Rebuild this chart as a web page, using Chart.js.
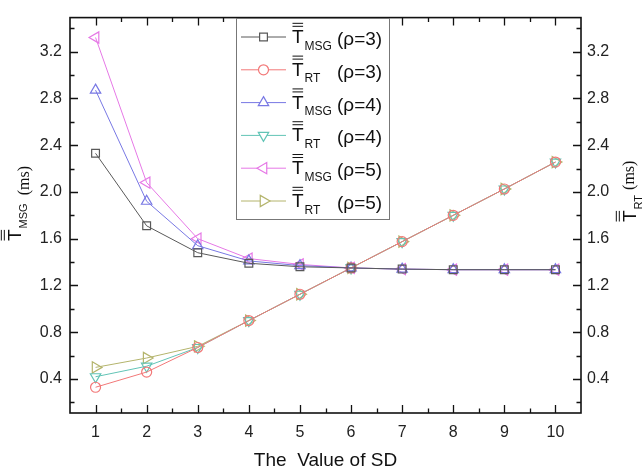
<!DOCTYPE html>
<html>
<head>
<meta charset="utf-8">
<script src="https://cdn.jsdelivr.net/npm/chart.js@4/dist/chart.umd.min.js"></script>
<style>
  html, body { margin: 0; padding: 0; background: #fff; }
  #grafico { display: block; }
</style>
</head>
<body>
<canvas id="grafico" width="644" height="474"></canvas>
<script>
// valores de SD en el eje x
const sdValues = [1, 2, 3, 4, 5, 6, 7, 8, 9, 10];

// tiempo medio de mensaje (ms)
const msgRho3 = [2.33, 1.71, 1.48, 1.39, 1.36, 1.35, 1.34, 1.335, 1.335, 1.335];
const msgRho4 = [2.87, 1.92, 1.54, 1.41, 1.37, 1.35, 1.34, 1.335, 1.335, 1.335];
const msgRho5 = [3.32, 2.08, 1.60, 1.43, 1.38, 1.35, 1.34, 1.335, 1.335, 1.335];

// tiempo medio de respuesta (ms)
const rtRho3 = [0.33, 0.46, 0.67, 0.90, 1.125, 1.35, 1.575, 1.80, 2.025, 2.255];
const rtRho4 = [0.42, 0.51, 0.67, 0.90, 1.125, 1.35, 1.575, 1.80, 2.025, 2.255];
const rtRho5 = [0.50, 0.58, 0.68, 0.90, 1.125, 1.35, 1.575, 1.80, 2.025, 2.255];

// marcas del eje y (ambos lados)
const yTickValues = [0.4, 0.8, 1.2, 1.6, 2.0, 2.4, 2.8, 3.2];

const FONT = '"Liberation Sans", Arial, sans-serif';

function serie(valores, sub, rho, color, estilo, rotacion, radio, eje) {
  return {
    label: sub + ' ' + rho,
    sub: sub,
    rho: rho,
    data: sdValues.map((x, i) => ({ x: x, y: valores[i] })),
    yAxisID: eje,
    borderColor: color,
    borderWidth: 1,
    pointStyle: estilo,
    pointRotation: rotacion,
    pointRadius: radio,
    pointBorderColor: color,
    pointBackgroundColor: 'rgba(255,255,255,0)',
    pointBorderWidth: 1.2,
    tension: 0
  };
}

const datasets = [
  serie(msgRho3, 'MSG', 3, '#595959', 'rect', 0, 5.5, 'y'),
  serie(rtRho3, 'RT', 3, '#f27878', 'circle', 0, 5, 'y2'),
  serie(msgRho4, 'MSG', 4, '#7878e4', 'triangle', 0, 6, 'y'),
  serie(rtRho4, 'RT', 4, '#62c4b6', 'triangle', 180, 6, 'y2'),
  serie(msgRho5, 'MSG', 5, '#e678e6', 'triangle', 270, 6.5, 'y'),
  serie(rtRho5, 'RT', 5, '#b4b46c', 'triangle', 90, 6.5, 'y2')
];

// T con doble barra y subíndice; devuelve la x final
function dibujarT(ctx, x, y, size, sub, subSize) {
  ctx.font = size + 'px ' + FONT;
  ctx.fillText('T', x, y);
  const w = ctx.measureText('T').width;
  const cap = size * 0.72;
  ctx.lineWidth = 1;
  ctx.beginPath();
  [3, 6].forEach(d => {
    ctx.moveTo(x + 0.5, y - cap - d);
    ctx.lineTo(x + w - 0.5, y - cap - d);
  });
  ctx.stroke();
  ctx.font = subSize + 'px ' + FONT;
  ctx.fillText(sub, x + w + 1, y + subSize * 0.55);
  return x + w + 1 + ctx.measureText(sub).width;
}

function marcas(ctx, area, scale, vertical, mayores, menores) {
  ctx.beginPath();
  const linea = (v, len) => {
    const p = Math.round(scale.getPixelForValue(v)) + 0.5;
    if (vertical) {
      ctx.moveTo(area.left, p); ctx.lineTo(area.left + len, p);
      ctx.moveTo(area.right, p); ctx.lineTo(area.right - len, p);
    } else {
      ctx.moveTo(p, area.bottom); ctx.lineTo(p, area.bottom - len);
      ctx.moveTo(p, area.top); ctx.lineTo(p, area.top + len);
    }
  };
  mayores.forEach(v => linea(v, 8));
  menores.forEach(v => linea(v, 4.5));
  ctx.stroke();
}

const ejesYLeyenda = {
  id: 'ejesYLeyenda',
  afterDraw(chart) {
    const ctx = chart.ctx;
    const a = chart.chartArea;
    ctx.save();
    ctx.strokeStyle = '#111';
    ctx.fillStyle = '#111';

    // marco
    ctx.lineWidth = 1.6;
    ctx.strokeRect(a.left, a.top, a.right - a.left, a.bottom - a.top);

    // marcas hacia dentro
    ctx.lineWidth = 1.3;
    const xMenores = sdValues.map(v => v + 0.5).filter(v => v < 10.5);
    marcas(ctx, a, chart.scales.x, false, sdValues, xMenores);
    const yMenores = [0.2].concat(yTickValues.map(v => v + 0.2));
    marcas(ctx, a, chart.scales.y, true, yTickValues, yMenores.filter(v => v < 3.49));

    // título del eje x
    ctx.font = '19px ' + FONT;
    ctx.textAlign = 'center';
    ctx.textBaseline = 'alphabetic';
    ctx.fillText('The  Value of SD', (a.left + a.right) / 2, 466);
    ctx.textAlign = 'left';

    // título del eje izquierdo
    ctx.save();
    ctx.translate(21, 241);
    ctx.rotate(-Math.PI / 2);
    let fin = dibujarT(ctx, 0, 0, 19, 'MSG', 11);
    ctx.font = '16px "Liberation Serif", "Times New Roman", serif';
    ctx.fillText('(ms)', fin + 8, 8);
    ctx.restore();

    // título del eje derecho
    ctx.save();
    ctx.translate(636, 222);
    ctx.rotate(-Math.PI / 2);
    fin = dibujarT(ctx, 0, 0, 19, 'RT', 11);
    ctx.font = '16px "Liberation Serif", "Times New Roman", serif';
    ctx.fillText('(ms)', fin + 5, -2);
    ctx.restore();

    // leyenda
    const lx = 236, ly = 18, lw = 153, lh = 201;
    ctx.fillStyle = '#fff';
    ctx.fillRect(lx, ly, lw, lh);
    ctx.strokeStyle = '#777';
    ctx.lineWidth = 1;
    ctx.strokeRect(lx + 0.5, ly + 0.5, lw, lh);
    chart.data.datasets.forEach((ds, i) => {
      const cy = 37 + i * 32.8;
      ctx.strokeStyle = ds.borderColor;
      ctx.lineWidth = 1;
      ctx.beginPath();
      ctx.moveTo(241, cy); ctx.lineTo(286, cy);
      ctx.stroke();
      ctx.fillStyle = '#fff';
      ctx.lineWidth = 1.2;
      Chart.helpers.drawPoint(ctx, {
        pointStyle: ds.pointStyle,
        rotation: ds.pointRotation,
        radius: ds.pointRadius,
        borderWidth: 1.2
      }, 263.5, cy);
      ctx.fillStyle = '#111';
      ctx.strokeStyle = '#111';
      dibujarT(ctx, 292, cy + 6, 19, ds.sub, 12);
      ctx.font = '19px ' + FONT;
      ctx.fillText('(\u03c1=' + ds.rho + ')', 337, cy + 8);
    });
    ctx.restore();
  }
};

const ctx = document.getElementById('grafico').getContext('2d');

new Chart(ctx, {
  type: 'line',
  data: { datasets: datasets },
  options: {
    responsive: false,
    animation: false,
    devicePixelRatio: 1,
    events: [],
    layout: { padding: { top: 3, left: 0, right: 0, bottom: 0 } },
    plugins: { legend: { display: false }, tooltip: { enabled: false } },
    scales: {
      x: {
        type: 'linear',
        min: 0.5,
        max: 10.5,
        afterBuildTicks: s => { s.ticks = sdValues.map(v => ({ value: v })); },
        afterFit: s => { s.height = 61; },
        grid: { display: false, drawTicks: false },
        border: { display: false },
        ticks: { color: '#222', font: { size: 16, family: FONT }, padding: 10 }
      },
      y: {
        position: 'left',
        min: 0.11,
        max: 3.49,
        afterBuildTicks: s => { s.ticks = yTickValues.map(v => ({ value: v })); },
        afterFit: s => { s.width = 70; },
        grid: { display: false, drawTicks: false },
        border: { display: false },
        ticks: { color: '#222', font: { size: 16, family: FONT }, padding: 8, callback: v => v.toFixed(1) }
      },
      y2: {
        position: 'right',
        min: 0.11,
        max: 3.49,
        afterBuildTicks: s => { s.ticks = yTickValues.map(v => ({ value: v })); },
        afterFit: s => { s.width = 63; },
        grid: { display: false, drawTicks: false },
        border: { display: false },
        ticks: { color: '#222', font: { size: 16, family: FONT }, padding: 6, callback: v => v.toFixed(1) }
      }
    }
  },
  plugins: [ejesYLeyenda]
});
</script>
</body>
</html>
